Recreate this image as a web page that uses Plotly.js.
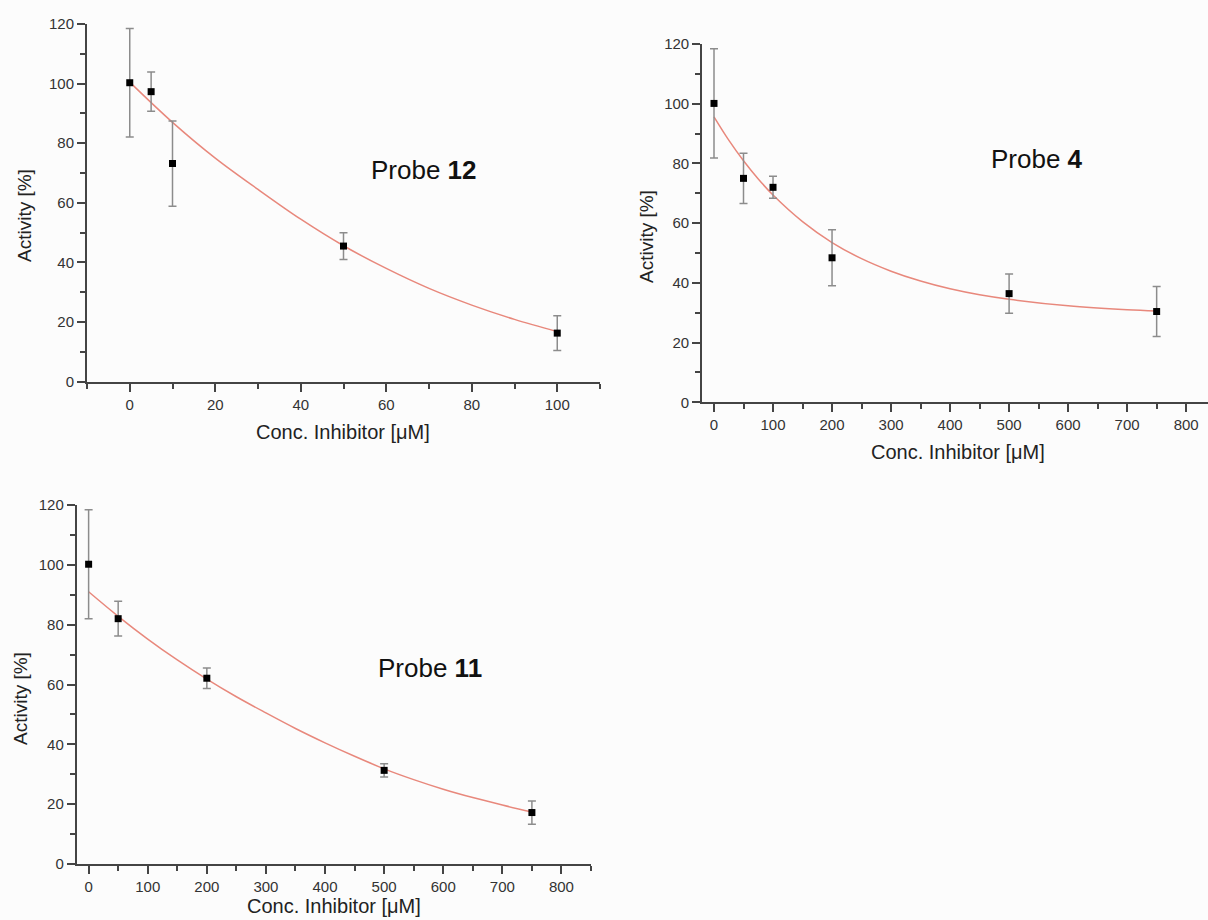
<!DOCTYPE html>
<html>
<head>
<meta charset="utf-8">
<script src="https://cdn.plot.ly/plotly-3.0.1.min.js"></script>
<style>html,body{margin:0;padding:0;background:#fcfcfc;}#chart{width:1208px;height:920px;}</style>
</head>
<body>
<div id="chart"></div>
<script>
// ---- Data ----
// Probe 12
const p12_conc = [0, 5, 10, 50, 100];
const p12_activity = [100.3, 97.3, 73.2, 45.5, 16.3];
const p12_err = [18.2, 6.6, 14.3, 4.5, 5.8];
const p12_fit_x = [0, 10, 20, 30, 40, 50, 60, 70, 80, 90, 100];
const p12_fit_y = [100.5, 87, 75, 64.5, 54.5, 45.6, 38, 31.3, 25.7, 20.9, 16.8];

// Probe 4
const p4_conc = [0, 50, 100, 200, 500, 750];
const p4_activity = [100.1, 75.0, 72.0, 48.4, 36.4, 30.4];
const p4_err = [18.3, 8.4, 3.7, 9.4, 6.6, 8.4];
const p4_fit_x = [0, 25, 50, 75, 100, 150, 200, 250, 300, 350, 400, 450, 500, 600, 700, 750];
const p4_fit_y = [95.6, 87.8, 80.9, 74.8, 69.4, 60.5, 53.5, 48.1, 43.9, 40.6, 38.0, 36.0, 34.5, 32.3, 31.0, 30.6];

// Probe 11
const p11_conc = [0, 50, 200, 500, 750];
const p11_activity = [100.2, 82.0, 62.1, 31.3, 17.2];
const p11_err = [18.2, 5.8, 3.4, 2.2, 3.9];
const p11_fit_x = [0, 50, 100, 150, 200, 250, 300, 350, 400, 450, 500, 550, 600, 650, 700, 750];
const p11_fit_y = [91, 82.8, 75.2, 68.2, 61.8, 55.9, 50.5, 45.3, 40.5, 36, 31.8, 28.2, 25, 22.2, 19.7, 17.4];

const panelLabels = ['Probe <b>12</b>', 'Probe <b>4</b>', 'Probe <b>11</b>'];
const xTitle = 'Conc. Inhibitor [μM]';
const yTitle = 'Activity [%]';

// ---- Styling ----
const W = 1208, H = 920;
const regular = '"Liberation Sans", Arial, sans-serif';
const axisColor = '#444';
const fitColor = '#e8887c';
const errColor = '#8c8c8c';

function px(x) { return x / W; }
function py(y) { return 1 - y / H; }

function pointsTrace(x, y, e, xa, ya) {
  return {
    x: x, y: y, type: 'scatter', mode: 'markers', xaxis: xa, yaxis: ya,
    marker: { symbol: 'square', size: 7, color: '#000' },
    error_y: { type: 'data', array: e, visible: true, color: errColor, thickness: 1.5, width: 4 },
    cliponaxis: false, showlegend: false, hoverinfo: 'x+y'
  };
}
function fitTrace(x, y, xa, ya) {
  return {
    x: x, y: y, type: 'scatter', mode: 'lines', xaxis: xa, yaxis: ya,
    line: { color: fitColor, width: 1.5, shape: 'spline', smoothing: 1 },
    showlegend: false, hoverinfo: 'skip'
  };
}

const data = [
  fitTrace(p12_fit_x, p12_fit_y, 'x', 'y'),
  pointsTrace(p12_conc, p12_activity, p12_err, 'x', 'y'),
  fitTrace(p4_fit_x, p4_fit_y, 'x2', 'y2'),
  pointsTrace(p4_conc, p4_activity, p4_err, 'x2', 'y2'),
  fitTrace(p11_fit_x, p11_fit_y, 'x3', 'y3'),
  pointsTrace(p11_conc, p11_activity, p11_err, 'x3', 'y3')
];

function xAxis(domain, range, dtick, minorDtick, anchor) {
  return {
    domain: domain, range: range, anchor: anchor, dtick: dtick, tick0: 0,
    showline: true, linecolor: axisColor, linewidth: 2,
    ticks: 'outside', ticklen: 8, tickwidth: 2, tickcolor: axisColor,
    minor: { dtick: minorDtick, tick0: 0, ticks: 'outside', ticklen: 5, tickwidth: 2, tickcolor: axisColor, showgrid: false },
    showgrid: false, zeroline: false, fixedrange: true,
    tickfont: { family: regular, size: 15, color: '#333' }
  };
}
function yAxis(domain, anchor) {
  return {
    domain: domain, range: [0, 120], anchor: anchor, dtick: 20, tick0: 0,
    showline: true, linecolor: axisColor, linewidth: 2,
    ticks: 'outside', ticklen: 8, tickwidth: 2, tickcolor: axisColor,
    minor: { dtick: 10, tick0: 0, ticks: 'outside', ticklen: 5, tickwidth: 2, tickcolor: axisColor, showgrid: false },
    showgrid: false, zeroline: false, fixedrange: true,
    tickfont: { family: regular, size: 15, color: '#333' }
  };
}

function ann(text, x, y, opts) {
  return Object.assign({
    text: text, x: px(x), y: py(y), xref: 'paper', yref: 'paper',
    xanchor: 'center', yanchor: 'middle', showarrow: false,
    font: { family: regular, size: 20, color: '#222' }
  }, opts || {});
}

const layout = {
  width: W, height: H,
  margin: { l: 0, r: 0, t: 0, b: 0 },
  paper_bgcolor: '#fcfcfc', plot_bgcolor: '#fcfcfc',
  showlegend: false,
  xaxis: xAxis([px(87), px(600)], [-10, 110], 20, 10, 'y'),
  yaxis: yAxis([py(381.7), py(24)], 'x'),
  xaxis2: xAxis([px(702.2), 1], [-20, 837], 100, 50, 'y2'),
  yaxis2: yAxis([py(402.3), py(44)], 'x2'),
  xaxis3: xAxis([px(76.8), px(591)], [-20, 850], 100, 50, 'y3'),
  yaxis3: yAxis([py(864), py(505)], 'x3'),
  annotations: [
    ann(panelLabels[0], 424, 170, { font: { family: regular, size: 26, color: '#111' } }),
    ann(panelLabels[1], 1037, 159, { font: { family: regular, size: 26, color: '#111' } }),
    ann(panelLabels[2], 430, 668, { font: { family: regular, size: 26, color: '#111' } }),
    ann(xTitle, 343, 432),
    ann(xTitle, 958, 452),
    ann(xTitle, 334, 906),
    ann(yTitle, 25, 216, { textangle: -90, font: { family: regular, size: 19, color: '#222' } }),
    ann(yTitle, 646, 237, { textangle: -90, font: { family: regular, size: 19, color: '#222' } }),
    ann(yTitle, 20, 699, { textangle: -90, font: { family: regular, size: 19, color: '#222' } })
  ]
};

Plotly.newPlot('chart', data, layout, { displayModeBar: false, staticPlot: true });
</script>
</body>
</html>
